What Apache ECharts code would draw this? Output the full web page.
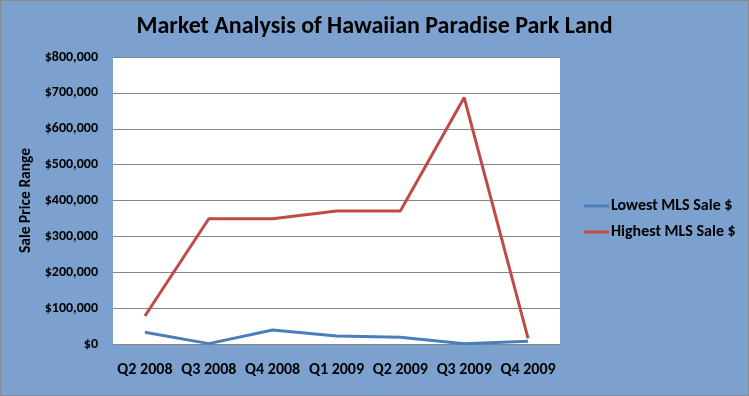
<!DOCTYPE html>
<html><head><meta charset="utf-8">
<script src="https://cdn.jsdelivr.net/npm/echarts@6/dist/echarts.min.js"></script>
<style>html,body{margin:0;padding:0;}#c{width:749px;height:396px;}</style>
</head><body><div id="c"></div>
<script>
var categories = ['Q2 2008','Q3 2008','Q4 2008','Q1 2009','Q2 2009','Q3 2009','Q4 2009'];
var lowestSale = [33000, 1000, 39000, 22000, 19000, 1000, 8000];
var highestSale = [78000, 349000, 349000, 371000, 371000, 687000, 16000];
var yTicks = [0, 100000, 200000, 300000, 400000, 500000, 600000, 700000, 800000];

var FONT = "Carlito, 'Liberation Sans Narrow', 'DejaVu Sans Condensed', sans-serif";
var chart = echarts.init(document.getElementById('c'));
function fmt(v){ return '$' + v.toString().replace(/\B(?=(\d{3})+(?!\d))/g, ','); }
chart.setOption({
  backgroundColor: '#7CA1CF',
  animation: false,
  title: {
    text: 'Market Analysis of Hawaiian Paradise Park Land',
    left: 'center', top: 10,
    textStyle: {fontFamily: FONT, fontSize: 24, fontWeight: 'bold', color: '#000'}
  },
  legend: {
    orient: 'vertical', left: 579, top: 193, itemGap: 10,
    itemWidth: 25, itemHeight: 3, icon: 'rect',
    textStyle: {fontFamily: FONT, fontSize: 16, fontWeight: 'bold', color: '#000', padding: [0,0,0,-3]},
    data: ['Lowest MLS Sale $', 'Highest MLS Sale $']
  },
  graphic: [{
    type: 'rect', shape: {x: 0.5, y: 0.5, width: 748, height: 395},
    style: {fill: 'none', stroke: '#8a8a8a', lineWidth: 1}, silent: true
  }],
  grid: {left: 113, right: 189, top: 57, bottom: 52, show: true, backgroundColor: '#fff', borderWidth: 0},
  xAxis: {
    type: 'category', data: categories, boundaryGap: true,
    axisLine: {show: false}, axisTick: {show: false},
    axisLabel: {interval: 0, fontFamily: FONT, fontSize: 16, fontWeight: 'bold', color: '#000', margin: 18}
  },
  yAxis: {
    type: 'value', min: yTicks[0], max: yTicks[yTicks.length-1], interval: 100000,
    name: 'Sale Price Range', nameLocation: 'middle', nameGap: 77, nameRotate: 90,
    nameTextStyle: {fontFamily: FONT, fontSize: 15.5, fontWeight: 'bold', color: '#000'},
    axisLine: {show: false}, axisTick: {show: false},
    splitLine: {lineStyle: {color: '#868686', width: 1}},
    axisLabel: {fontFamily: FONT, fontSize: 14, fontWeight: 'bold', color: '#000', margin: 15, formatter: fmt}
  },
  series: [
    {name: 'Lowest MLS Sale $', type: 'line', data: lowestSale, symbol: 'none',
     lineStyle: {color: '#4A7EBB', width: 3}, itemStyle: {color: '#4A7EBB'}},
    {name: 'Highest MLS Sale $', type: 'line', data: highestSale, symbol: 'none',
     lineStyle: {color: '#BE4B48', width: 3}, itemStyle: {color: '#BE4B48'}}
  ]
});
</script></body></html>
